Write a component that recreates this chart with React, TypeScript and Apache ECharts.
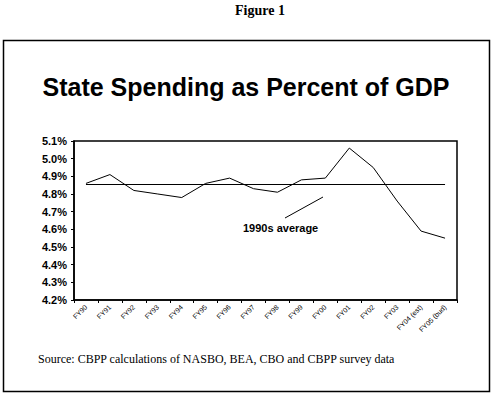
import React, { useEffect, useRef } from "react";
import * as echarts from "echarts";

const categories = [
  "FY90", "FY91", "FY92", "FY93", "FY94", "FY95", "FY96", "FY97",
  "FY98", "FY99", "FY00", "FY01", "FY02", "FY03", "FY04 (est)", "FY05 (bud)",
];
const spending = [
  4.86, 4.91, 4.82, 4.8, 4.78, 4.86, 4.89, 4.83,
  4.81, 4.88, 4.89, 5.06, 4.95, 4.76, 4.59, 4.55,
];
const average1990s = 4.855;
const yMin = 4.2;
const yMax = 5.1;
const yStep = 0.1;
const titleText = "State Spending as Percent of GDP";
const figureText = "Figure 1";
const sourceText = "Source: CBPP calculations of NASBO, BEA, CBO and CBPP survey data";
const annotationText = "1990s average";

export default function App() {
  const ref = useRef<HTMLDivElement>(null);
  useEffect(() => {
    if (!ref.current) return;
    const chart = echarts.init(ref.current, null, { renderer: "svg" });
    chart.setOption({
      animation: false,
      backgroundColor: "#ffffff",
      grid: { left: 74, top: 141, right: 35, bottom: 95, show: true, borderColor: "#000", borderWidth: 1.5, backgroundColor: "transparent" },
      xAxis: {
        type: "category",
        data: categories,
        boundaryGap: true,
        axisLine: { lineStyle: { color: "#000", width: 1.5 } },
        axisTick: { show: true, inside: false, length: 3, lineStyle: { color: "#000" } },
        axisLabel: { rotate: 45, fontSize: 7, color: "#000", fontFamily: "'Liberation Sans', Arial, sans-serif", margin: 6, interval: 0 },
        splitLine: { show: false },
      },
      yAxis: {
        type: "value",
        min: yMin,
        max: yMax,
        interval: yStep,
        axisLine: { show: true, lineStyle: { color: "#000", width: 1.5 } },
        axisTick: { show: true, length: 3, lineStyle: { color: "#000" } },
        axisLabel: {
          fontSize: 11, fontWeight: "bold", color: "#000", fontFamily: "'Liberation Sans', Arial, sans-serif", margin: 7,
          formatter: (v: number) => v.toFixed(1) + "%",
        },
        splitLine: { show: false },
      },
      series: [
        {
          type: "line",
          data: spending,
          symbol: "none",
          lineStyle: { color: "#000", width: 1 },
          markLine: {
            silent: true,
            symbol: "none",
            label: { show: false },
            lineStyle: { color: "#000", width: 1.2, type: "solid" },
            data: [[{ coord: [0, average1990s] }, { coord: [categories.length - 1, average1990s] }]],
          },
        },
      ],
      graphic: [
        { type: "rect", shape: { x: 3.5, y: 40.5, width: 486, height: 351 }, style: { fill: "none", stroke: "#000", lineWidth: 1.5 }, z: 100 },
        { type: "text", x: 260, y: 10, style: { text: figureText, font: "bold 14px 'Liberation Serif', 'Times New Roman', serif", fill: "#000", textAlign: "center", textVerticalAlign: "middle" } },
        { type: "text", x: 246, y: 87, style: { text: titleText, font: "bold 25px 'Liberation Sans', Arial, sans-serif", fill: "#000", textAlign: "center", textVerticalAlign: "middle" } },
        { type: "text", x: 38, y: 359, style: { text: sourceText, font: "12px 'Liberation Serif', 'Times New Roman', serif", fill: "#000", textAlign: "left", textVerticalAlign: "middle" } },
        { type: "text", x: 243, y: 228, style: { text: annotationText, font: "bold 11px 'Liberation Sans', Arial, sans-serif", fill: "#000", textAlign: "left", textVerticalAlign: "middle" } },
        { type: "line", shape: { x1: 285, y1: 218, x2: 323, y2: 197 }, style: { stroke: "#000", lineWidth: 1 } },
      ],
    });
    return () => chart.dispose();
  }, []);
  return <div ref={ref} style={{ position: "fixed", left: 0, top: 0, width: 492, height: 395 }} />;
}
